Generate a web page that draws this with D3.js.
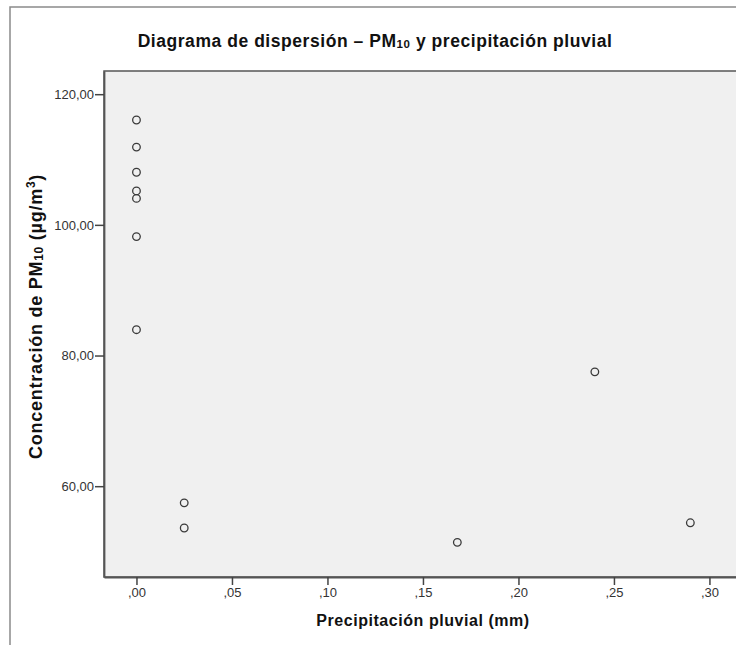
<!DOCTYPE html>
<html>
<head>
<meta charset="utf-8">
<script src="https://cdn.jsdelivr.net/npm/d3@7"></script>
<style>
  html, body { margin: 0; padding: 0; background: #fff; }
  svg { display: block; }
  text { font-family: "Liberation Sans", Arial, sans-serif; }
</style>
</head>
<body>
<svg id="chart" width="736" height="645"></svg>
<script>
// ---- data ----
const precipitacion = [0, 0, 0, 0, 0, 0, 0, 0.025, 0.025, 0.168, 0.24, 0.29];
const pm10 = [116.05, 111.9, 108.05, 105.2, 104.05, 98.2, 83.95, 57.45, 53.6, 51.4, 77.5, 54.4];
const xTicks = [0, 0.05, 0.10, 0.15, 0.20, 0.25, 0.30];
const yTicks = [60, 80, 100, 120];
const xDomain = [-0.017, 0.316];
const yDomain = [46.1, 123.55];

// ---- layout ----
const svg = d3.select("#chart");
const plot = { left: 104, top: 71, right: 740, bottom: 577 };

// outer frame
svg.append("rect")
  .attr("x", 10).attr("y", 7)
  .attr("width", 740).attr("height", 700)
  .attr("fill", "#fff").attr("stroke", "#8a8a8a").attr("stroke-width", 1.5);

const x = d3.scaleLinear().domain(xDomain).range([plot.left, plot.right]);
const y = d3.scaleLinear().domain(yDomain).range([plot.bottom, plot.top]);

// plot background
svg.append("rect")
  .attr("x", plot.left).attr("y", plot.top)
  .attr("width", plot.right - plot.left).attr("height", plot.bottom - plot.top)
  .attr("fill", "#f0f0f0").attr("stroke", "#555").attr("stroke-width", 1.5);

const fmtX = v => d3.format(".2f")(v).replace(/^0/, "").replace(".", ",");
const fmtY = v => d3.format(".2f")(v).replace(".", ",");

// axes
const xAxis = svg.append("g")
  .attr("transform", `translate(0,${plot.bottom})`)
  .call(d3.axisBottom(x).tickValues(xTicks).tickFormat(fmtX).tickSize(8).tickPadding(3).tickSizeOuter(0));
const yAxis = svg.append("g")
  .attr("transform", `translate(${plot.left},0)`)
  .call(d3.axisLeft(y).tickValues(yTicks).tickFormat(fmtY).tickSize(9).tickPadding(1).tickSizeOuter(0));

[xAxis, yAxis].forEach(g => {
  g.select(".domain").attr("stroke", "#555").attr("stroke-width", 1.8);
  g.selectAll(".tick line").attr("stroke", "#444").attr("stroke-width", 1.5);
  g.selectAll(".tick text")
    .attr("fill", "#333")
    .style("font-family", "'Liberation Sans', Arial, sans-serif")
    .style("font-size", "13px");
});

// points
svg.append("g").selectAll("circle")
  .data(precipitacion.map((p, i) => ({ p, v: pm10[i] })))
  .join("circle")
  .attr("cx", d => x(d.p))
  .attr("cy", d => y(d.v))
  .attr("r", 3.8)
  .attr("fill", "none")
  .attr("stroke", "#3a3a3a")
  .attr("stroke-width", 1.3);

// title
const title = svg.append("text")
  .attr("x", 375).attr("y", 47)
  .attr("text-anchor", "middle")
  .attr("font-weight", "bold")
  .attr("font-size", "17.5px")
  .attr("letter-spacing", "0.55px")
  .attr("fill", "#111");
title.append("tspan").text("Diagrama de dispersión – PM");
title.append("tspan").attr("font-size", "11.5px").attr("dy", 1).text("10");
title.append("tspan").attr("dy", -1).text(" y precipitación pluvial");

// x label
svg.append("text")
  .attr("x", 423).attr("y", 626)
  .attr("text-anchor", "middle")
  .attr("font-weight", "bold")
  .attr("font-size", "16px")
  .attr("letter-spacing", "0.55px")
  .attr("fill", "#111")
  .text("Precipitación pluvial (mm)");

// y label
const yl = svg.append("text")
  .attr("transform", "translate(42,316.5) rotate(-90)")
  .attr("text-anchor", "middle")
  .attr("font-weight", "bold")
  .attr("font-size", "18px")
  .attr("letter-spacing", "0.75px")
  .attr("fill", "#111");
yl.append("tspan").text("Concentración de PM");
yl.append("tspan").attr("font-size", "12px").attr("dy", 1).text("10");
yl.append("tspan").attr("dy", -1).text(" (µg/m");
yl.append("tspan").attr("font-size", "12px").attr("dy", -7).text("3");
yl.append("tspan").attr("dy", 7).text(")");
</script>
</body>
</html>
